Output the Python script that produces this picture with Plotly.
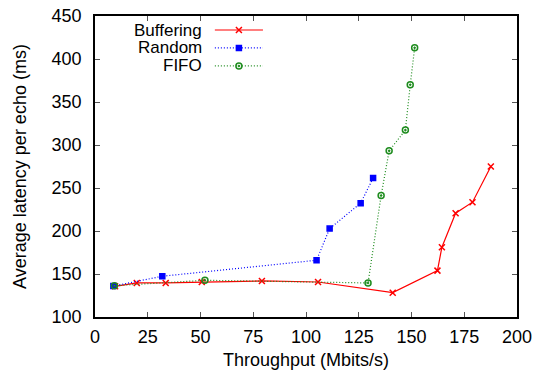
import plotly.graph_objects as go

buf_x = [9.5, 19.8, 33.5, 50.6, 79.1, 105.7, 141.1, 162.3, 164.4, 170.9, 178.9, 187.6]
buf_y = [135.7, 139.6, 139.6, 140.7, 141.9, 140.7, 128.3, 153.9, 181.1, 220.7, 233.5, 275.0]

rnd_x = [8.7, 31.9, 105.0, 111.2, 125.9, 131.8]
rnd_y = [136.0, 147.4, 166.0, 202.8, 232.4, 261.5]

fifo_x = [9.2, 52.1, 129.4, 135.6, 139.4, 147.1, 149.4, 151.5]
fifo_y = [136.4, 142.7, 139.6, 241.2, 293.2, 317.3, 370.0, 413.0]

x_ticks = [0, 25, 50, 75, 100, 125, 150, 175, 200]
y_ticks = [100, 150, 200, 250, 300, 350, 400, 450]

names = ["Buffering", "Random", "FIFO"]
colors = ["#ff0000", "#0000ff", "#1e8c1e"]
dashes = ["solid", "1px,2px", "1px,2px"]
symbols = ["x-thin-open", "square", "circle-open-dot"]
sizes = [6, 5, 6]

FONT = "Liberation Sans, Arial, sans-serif"

fig = go.Figure()
for xs, ys, n, c, d, s, sz in zip([buf_x, rnd_x, fifo_x], [buf_y, rnd_y, fifo_y],
                                  names, colors, dashes, symbols, sizes):
    fig.add_trace(go.Scatter(
        x=xs, y=ys, mode="lines+markers", name=n, showlegend=False,
        line=dict(color=c, width=1.2, dash=d),
        marker=dict(symbol=s, size=sz, color=c, line=dict(color=c, width=1.5)),
    ))

# gnuplot-style key: text right-aligned, sample to the right
key_y = [0.9535, 0.894, 0.834]
for n, c, d, s, sz, ky in zip(names, colors, dashes, symbols, sizes, key_y):
    fig.add_trace(go.Scatter(
        x=[0.284, 0.341, 0.398], y=[ky, ky, ky], xaxis="x2", yaxis="y2",
        mode="lines", showlegend=False, hoverinfo="skip",
        line=dict(color=c, width=1.2, dash=d),
    ))
    fig.add_trace(go.Scatter(
        x=[0.341], y=[ky], xaxis="x2", yaxis="y2",
        mode="markers", showlegend=False, hoverinfo="skip",
        marker=dict(symbol=s, size=sz, color=c, line=dict(color=c, width=1.5)),
    ))
    fig.add_annotation(x=0.255, y=ky, xref="x2", yref="y2", text=n,
                       showarrow=False, xanchor="right", yanchor="middle",
                       borderpad=0,
                       font=dict(size=17, color="black", family=FONT))

axis_common = dict(
    showline=True, linecolor="black", linewidth=1.5, mirror="ticks",
    ticks="inside", ticklen=5, tickwidth=1, tickcolor="#555555",
    showgrid=False, zeroline=False, automargin=False,
    tickfont=dict(size=18, color="black", family=FONT),
)

fig.update_layout(
    width=536, height=370,
    margin=dict(l=95, r=19, t=16, b=53),
    paper_bgcolor="white", plot_bgcolor="white",
    font=dict(family=FONT, color="black"),
    xaxis=dict(range=[0, 200], tickvals=x_ticks,
               title=dict(text="Throughput (Mbits/s)", font=dict(size=18, family=FONT), standoff=13),
               ticklabelstandoff=3, **axis_common),
    yaxis=dict(range=[100, 450], tickvals=y_ticks,
               title=dict(text="Average latency per echo (ms)", font=dict(size=18, family=FONT), standoff=20),
               ticklabelstandoff=8, **axis_common),
    xaxis2=dict(range=[0, 1], overlaying="x", visible=False, fixedrange=True),
    yaxis2=dict(range=[0, 1], overlaying="y", visible=False, fixedrange=True),
)

fig.write_html("out.html", config={"displayModeBar": False})

# remove the browser's default 8px body margin so the figure sits at the page origin
with open("out.html", "r", encoding="utf-8") as f:
    html = f.read()
html = html.replace("<head>", "<head><style>html,body{margin:0;padding:0;overflow:hidden;}</style>", 1)
with open("out.html", "w", encoding="utf-8") as f:
    f.write(html)
